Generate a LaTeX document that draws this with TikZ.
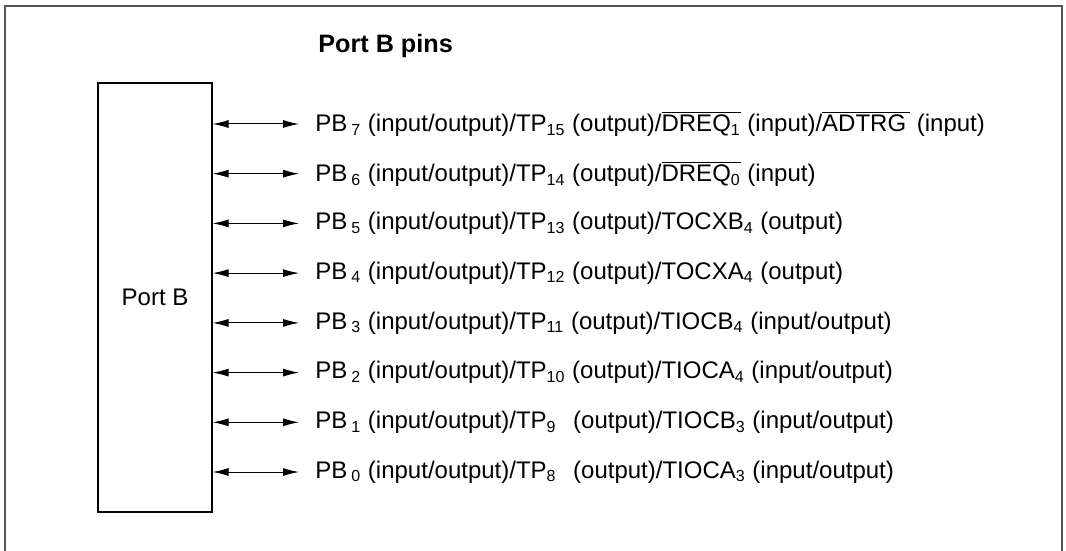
\documentclass[tikz,border=0pt]{standalone}
\usepackage{fontspec}
\setmainfont{Liberation Sans}
\usetikzlibrary{positioning,arrows.meta}
\definecolor{FrameGray}{RGB}{85,85,85}
\newcommand{\ovl}[1]{$\overline{\hbox{#1}}$}
\newcommand{\sub}[1]{\textsubscript{#1}}

\begin{document}
\begin{tikzpicture}[x=0.5pt, y=-0.5pt, font=\fontsize{12}{14}\selectfont,
    pin/.style={anchor=west, inner sep=0pt},
    pinarrow/.style={{Latex[length=8pt,width=4pt]}-{Latex[length=8pt,width=4pt]}, shorten >=8pt}]
  \useasboundingbox (0,0) rectangle (1066,551);
  % open frame
  \draw[FrameGray, line width=1pt] (4.5,551) -- (4.5,6.5) -- (1061.5,6.5) -- (1061.5,551);

  \node[font=\fontsize{12.6}{14}\selectfont\bfseries, anchor=west, inner sep=0pt] (title) at (318,46) {Port B pins};
  \node[draw, line width=0.6pt, minimum width=57pt, minimum height=214.5pt, inner sep=0pt] (portb) at (155,297.5) {Port B};

  \node[pin] (pb7) at (315,124) {PB\,\sub{7} (input/output)/TP\sub{15} (output)/\ovl{DREQ\sub{1}} (input)/\ovl{ADTRG\,} (input)};
  \node[pin] (pb6) at (315,173.7) {PB\,\sub{6} (input/output)/TP\sub{14} (output)/\ovl{DREQ\sub{0}} (input)};
  \node[pin] (pb5) at (315,223.4) {PB\,\sub{5} (input/output)/TP\sub{13} (output)/TOCXB\sub{4} (output)};
  \node[pin] (pb4) at (315,273.1) {PB\,\sub{4} (input/output)/TP\sub{12} (output)/TOCXA\sub{4} (output)};
  \node[pin] (pb3) at (315,322.9) {PB\,\sub{3} (input/output)/TP\sub{11} (output)/TIOCB\sub{4} (input/output)};
  \node[pin] (pb2) at (315,372.6) {PB\,\sub{2} (input/output)/TP\sub{10} (output)/TIOCA\sub{4} (input/output)};
  \node[pin] (pb1) at (315,422.3) {PB\,\sub{1} (input/output)/TP\sub{9}\phantom{\sub{0}} (output)/TIOCB\sub{3} (input/output)};
  \node[pin] (pb0) at (315,472) {PB\,\sub{0} (input/output)/TP\sub{8}\phantom{\sub{0}} (output)/TIOCA\sub{3} (input/output)};

  \foreach \p in {pb7,pb6,pb5,pb4,pb3,pb2,pb1,pb0}
    \draw[pinarrow, line width=0.5pt] (portb.east |- \p.west) -- (\p.west);
\end{tikzpicture}
\end{document}
